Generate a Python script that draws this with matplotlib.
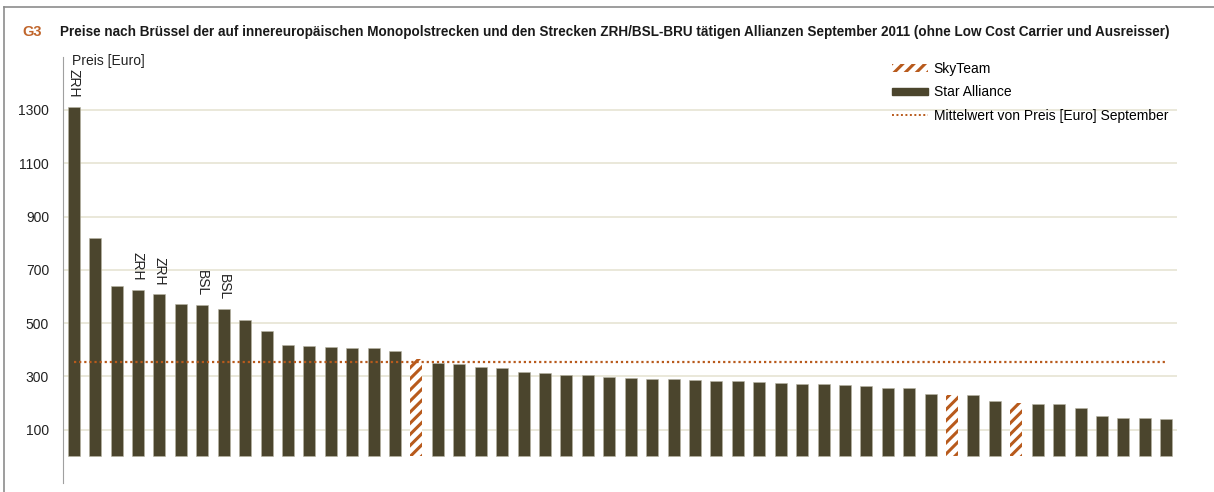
import matplotlib.pyplot as plt
from matplotlib.lines import Line2D
from matplotlib.patches import Patch

plt.rcParams['font.family'] = ['Liberation Sans', 'DejaVu Sans']
plt.rcParams['hatch.linewidth'] = 2.2

# Preise [Euro] September 2011, absteigend sortiert
prices = [1313, 820, 641, 626, 608, 573, 568, 553, 513, 469,
          417, 414, 410, 405, 405, 397, 365,
          349, 345, 337, 332, 317, 312, 305, 305, 298, 293, 289, 289,
          285, 281, 281, 278, 276, 272,
          272, 269, 265, 256, 256, 233, 229, 229, 209, 200, 196, 196,
          182, 153, 145, 145, 141]
skyteam_idx = [16, 41, 44]          # restliche Balken: Star Alliance
label_idx = [0, 3, 4, 6, 7]
label_txt = ['ZRH', 'ZRH', 'ZRH', 'BSL', 'BSL']
mean_price = 356
yticks = [100, 300, 500, 700, 900, 1100, 1300]

dark = '#4B452D'
orange = '#B85A1C'

fig = plt.figure(figsize=(12.14, 4.92), dpi=100)
ax = fig.add_axes([63 / 1214, 1 - 483 / 492, (1177 - 63) / 1214, (483 - 56.7) / 492])

x = list(range(len(prices)))
for i, v in zip(x, prices):
    if i in skyteam_idx:
        ax.bar(i, v, width=0.56, facecolor='white', edgecolor=orange,
               hatch='///', linewidth=0, zorder=2)
    else:
        ax.bar(i, v, width=0.56, color=dark, edgecolor='#B8B5A5',
               linewidth=0.4, zorder=2)

ax.plot(x, [mean_price] * len(x), color=orange, linestyle=(0, (1, 1.3)),
        linewidth=1.6, zorder=3)

for i, t in zip(label_idx, label_txt):
    ax.annotate(t, (i, prices[i]), xytext=(0, 9), textcoords='offset pixels',
                rotation=270, ha='center', va='bottom', fontsize=10, color='#222222')

ax.set_xlim(-0.5, len(prices) - 0.5)
ax.set_ylim(-100, 1500)
ax.set_yticks(yticks)
ax.set_xticks([])
ax.tick_params(axis='y', length=0, pad=10, labelsize=10, labelcolor='#222222')
ax.grid(axis='y', color='#E4E1CF', linewidth=1.1, zorder=0)
ax.set_axisbelow(True)
for s in ['top', 'right', 'bottom']:
    ax.spines[s].set_visible(False)
ax.spines['left'].set_color('#A0A0A0')

fig.text(72 / 1214, 1 - 54 / 492, 'Preis [Euro]',
         fontsize=10, va='top', ha='left', color='#222222')

handles = [Patch(facecolor='white', edgecolor=orange, hatch='///', linewidth=0),
           Patch(facecolor=dark, edgecolor=dark),
           Line2D([0], [0], color=orange, linestyle=(0, (1, 1.3)), linewidth=1.4)]
ax.legend(handles, ['SkyTeam', 'Star Alliance', 'Mittelwert von Preis [Euro] September'],
          loc='upper left', bbox_to_anchor=(892 / 1214, 1 - 62 / 492),
          bbox_transform=fig.transFigure, frameon=False, fontsize=10,
          handlelength=2.6, handleheight=0.5, handletextpad=0.4, labelspacing=0.68,
          borderaxespad=0, borderpad=0)

fig.text(22 / 1214, 1 - 32 / 492, 'G3', color='#C0652B', fontsize=10.5,
         fontweight='bold', va='center')
fig.text(60 / 1214, 1 - 32 / 492,
         'Preise nach Brüssel der auf innereuropäischen Monopolstrecken und den Strecken '
         'ZRH/BSL-BRU tätigen Allianzen September 2011 (ohne Low Cost Carrier und Ausreisser)',
         color='#1A1A1A', fontsize=9.75, fontweight='bold', va='center')

# Rahmen oben und links
fig.add_artist(Line2D([4 / 1214, 1], [1 - 7 / 492, 1 - 7 / 492], color='#8C8C8C', linewidth=1.2))
fig.add_artist(Line2D([4 / 1214, 4 / 1214], [0, 1 - 7 / 492], color='#8C8C8C', linewidth=1.2))

fig.savefig('out.png', dpi=100)
